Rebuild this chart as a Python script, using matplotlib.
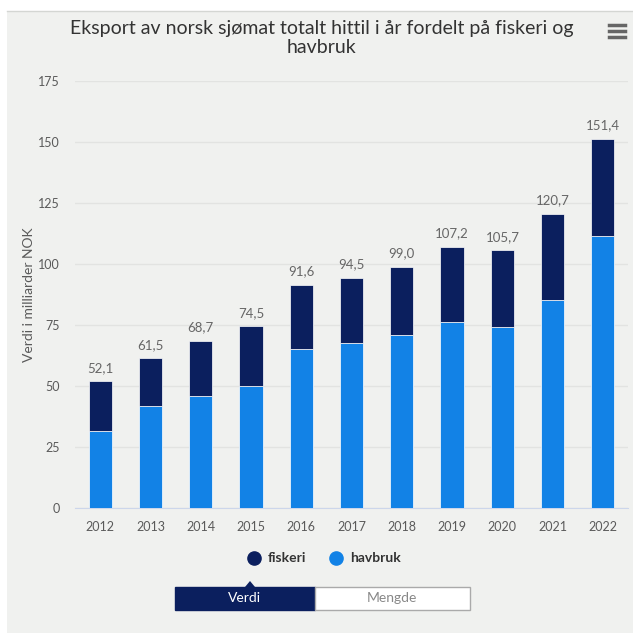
import matplotlib.pyplot as plt
from matplotlib.patches import Rectangle, Polygon
from matplotlib.lines import Line2D

plt.rcParams['font.family'] = ['Lato', 'DejaVu Sans']

years = ['2012', '2013', '2014', '2015', '2016', '2017', '2018', '2019', '2020', '2021', '2022']
havbruk = [31.5, 42.0, 46.1, 50.0, 65.3, 67.5, 71.1, 76.4, 74.1, 85.5, 111.6]
fiskeri = [20.6, 19.5, 22.6, 24.5, 26.3, 27.0, 27.9, 30.8, 31.6, 35.2, 39.8]
totals = ['52,1', '61,5', '68,7', '74,5', '91,6', '94,5', '99,0', '107,2', '105,7', '120,7', '151,4']

c_fisk = '#0b1f5e'
c_hav = '#1282e6'
bg = '#f0f1ef'

fig = plt.figure(figsize=(6.33, 6.38), dpi=100)
fig.patch.set_facecolor('white')
# grey panel behind the chart
fig.patches.append(Rectangle((7/633, 5/638), 626/633, 622/638, transform=fig.transFigure,
                             facecolor=bg, edgecolor='none', zorder=-5))
fig.lines.append(Line2D([7/633, 1], [627/638, 627/638], transform=fig.transFigure,
                        color='#d4d6d3', lw=1, zorder=-4))

ax = fig.add_axes([75/633, 1 - 508.3/638, 553/633, (508.3 - 81)/638])
ax.set_facecolor(bg)
ax.set_zorder(1)

x = range(len(years))
ax.bar(x, havbruk, width=0.46, color=c_hav, edgecolor='white', linewidth=0.5, zorder=3)
ax.bar(x, fiskeri, bottom=havbruk, width=0.46, color=c_fisk, edgecolor='white', linewidth=0.5, zorder=3)

for i, lab in enumerate(totals):
    ax.text(i, havbruk[i] + fiskeri[i] + 3, lab, ha='center', va='bottom',
            fontsize=9.5, color='#666666')

ax.set_xlim(-0.5, len(years) - 0.5)
ax.set_ylim(0, 175)
ax.set_yticks(range(0, 176, 25))
ax.set_xticks(list(x))
ax.set_xticklabels(years)
ax.grid(axis='y', color='#e2e3e1', lw=1, zorder=0)
for s in ['top', 'right', 'left']:
    ax.spines[s].set_visible(False)
ax.spines['bottom'].set_color('#ccd6eb')
ax.tick_params(axis='both', length=0, labelsize=9, colors='#5a5a5a')
ax.tick_params(axis='x', pad=9)
ax.tick_params(axis='y', pad=11)
ax.set_ylabel('Verdi i milliarder NOK', fontsize=10, color='#5a5a5a', labelpad=2)

fig.text(322/633, 1 - 38/638, 'Eksport av norsk sjømat totalt hittil i år fordelt på fiskeri og\nhavbruk',
         ha='center', va='center', fontsize=14, color='#333333', linespacing=1.15)

# menu icon
for yy in [25, 31, 37]:
    fig.lines.append(Line2D([609/633, 625/633], [1 - yy/638] * 2, transform=fig.transFigure,
                            color='#666666', lw=2.5))

# legend
fig.lines.append(Line2D([254/633], [1 - 558/638], transform=fig.transFigure, marker='o',
                        markersize=9.5, color=c_fisk, lw=0))
fig.text(268/633, 1 - 558/638, 'fiskeri', ha='left', va='center', fontsize=10,
         color='#333333', fontweight='bold')
fig.lines.append(Line2D([336/633], [1 - 558/638], transform=fig.transFigure, marker='o',
                        markersize=9.5, color=c_hav, lw=0))
fig.text(350/633, 1 - 558/638, 'havbruk', ha='left', va='center', fontsize=10,
         color='#333333', fontweight='bold')

# Verdi / Mengde toggle
fig.patches.append(Rectangle((175/633, 1 - 610/638), 140/633, 23/638, transform=fig.transFigure,
                             facecolor=c_fisk, edgecolor=c_fisk, zorder=2))
fig.patches.append(Rectangle((315/633, 1 - 610/638), 155/633, 23/638, transform=fig.transFigure,
                             facecolor='white', edgecolor='#aaaaaa', lw=1, zorder=2))
fig.patches.append(Polygon([(245/633, 1 - 587/638), (255/633, 1 - 587/638), (250/633, 1 - 581/638)],
                           transform=fig.transFigure, facecolor=c_fisk, edgecolor='none', zorder=2))
fig.text(245/633, 1 - 598.5/638, 'Verdi', ha='center', va='center', fontsize=10, color='white')
fig.text(392/633, 1 - 598.5/638, 'Mengde', ha='center', va='center', fontsize=10, color='#888888')

fig.savefig('out.png', dpi=100, facecolor=fig.get_facecolor())
